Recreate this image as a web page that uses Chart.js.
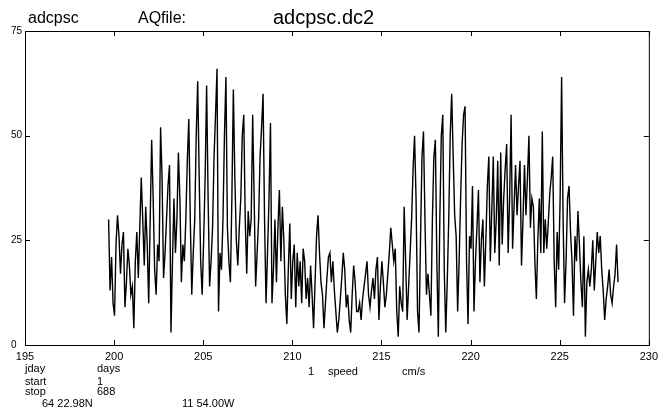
<!DOCTYPE html>
<html>
<head>
<meta charset="utf-8">
<script src="https://cdn.jsdelivr.net/npm/chart.js@4.4.0/dist/chart.umd.min.js"></script>
<style>
  html, body { margin: 0; padding: 0; background: #fff; }
  #wrap { position: relative; width: 663px; height: 417px; font-family: "Liberation Sans", Arial, sans-serif; color: #000; }
  canvas { position: absolute; left: 0; top: 0; }
  .t { position: absolute; white-space: pre; line-height: 1; }
</style>
</head>
<body>
<div id="wrap">
  <canvas id="speedChart" width="663" height="417"></canvas>
  <div class="t" style="left:28px;top:10px;font-size:16px">adcpsc</div>
  <div class="t" style="left:138px;top:10px;font-size:16px">AQfile:</div>
  <div class="t" style="left:273px;top:7px;font-size:20px">adcpsc.dc2</div>
  <div class="t" style="left:25px;top:363px;font-size:11px">jday</div>
  <div class="t" style="left:97px;top:363px;font-size:11px">days</div>
  <div class="t" style="left:308px;top:366px;font-size:11px">1</div>
  <div class="t" style="left:328px;top:366px;font-size:11px">speed</div>
  <div class="t" style="left:402px;top:366px;font-size:11px">cm/s</div>
  <div class="t" style="left:25px;top:376px;font-size:11px">start</div>
  <div class="t" style="left:97px;top:376px;font-size:11px">1</div>
  <div class="t" style="left:25px;top:386px;font-size:11px">stop</div>
  <div class="t" style="left:97px;top:386px;font-size:11px">688</div>
  <div class="t" style="left:42px;top:398px;font-size:11px">64 22.98N</div>
  <div class="t" style="left:182px;top:398px;font-size:11px">11 54.00W</div>
</div>
<script>
// sampling: first sample day and step (2 h)
const startDay = 199.69;
const stepDay = 1 / 12;

// speed (cm/s), one row per day
const speed = [
  30, 13, 21, 10, 7, 24, 31, 26, 17, 24, 27, 9,
  15, 23, 19, 12, 14, 4, 20, 27, 16, 28, 40, 30,
  19, 33, 24, 10, 30, 49, 35, 18, 12, 24, 20, 52,
  40, 16, 22, 30, 38, 43, 3, 20, 35, 22, 30, 46,
  35, 15, 24, 20, 30, 44, 54, 30, 12, 22, 30, 50,
  63, 40, 20, 12, 25, 40, 62, 35, 14, 20, 28, 45,
  55, 66, 8, 22, 18, 30, 50, 64, 28, 20, 15, 35,
  61, 40, 25, 19, 28, 35, 50, 55, 30, 17, 32, 26,
  30, 55, 35, 14, 22, 30, 45, 52, 60, 30, 10, 22,
  35, 53, 10, 18, 30, 15, 28, 37, 20, 33, 25, 12,
  5, 18, 29, 11, 20, 24, 9, 22, 14, 20, 10, 23,
  20, 11, 16, 9, 19, 12, 4, 15, 26, 31, 22, 15,
  12, 4, 10, 16, 21, 22, 15, 20, 13, 8, 3, 6,
  11, 16, 22, 18, 9, 12, 6, 3, 12, 19, 15, 8,
  8, 10, 6, 11, 14, 17, 20, 12, 9, 13, 16, 11,
  18, 21, 6, 14, 20, 15, 9, 12, 17, 22, 28, 24,
  20, 23, 8, 2, 14, 10, 8, 33, 20, 6, 14, 22,
  30, 42, 50, 35, 8, 3, 25, 45, 51, 30, 12, 17,
  12, 7, 30, 45, 49, 20, 2, 30, 50, 55, 18, 3,
  15, 30, 50, 60, 45, 31, 26, 8, 20, 35, 48, 55,
  57, 20, 5, 26, 23, 38, 8, 20, 28, 37, 15, 25,
  30, 14, 25, 38, 45, 20, 32, 45, 22, 30, 44, 19,
  46, 24, 35, 42, 48, 22, 35, 55, 23, 33, 43, 31,
  38, 44, 19, 30, 43, 31, 40, 50, 28, 35, 33, 20,
  11, 25, 35, 22, 51, 22, 30, 23, 29, 36, 40, 45,
  20, 9, 27, 18, 35, 64, 30, 10, 20, 35, 38, 27,
  20, 7, 26, 20, 32, 24, 15, 9, 26, 2, 15, 18,
  14, 18, 25, 13, 20, 27, 22, 26, 18, 13, 6, 11,
  14, 18, 12, 10, 14, 17, 24, 15
];

const xTicks = [195, 200, 205, 210, 215, 220, 225, 230];
const yTicks = [0, 25, 50, 75];

const points = speed.map((v, i) => ({ x: startDay + i * stepDay, y: v }));

// box round the plot with short inward ticks
const framePlugin = {
  id: 'frame',
  afterDatasetsDraw(chart) {
    const { ctx, chartArea: a, scales } = chart;
    ctx.save();
    ctx.strokeStyle = '#000';
    ctx.lineWidth = 1;
    ctx.strokeRect(a.left + 0.5, a.top + 0.5, a.right - a.left, a.bottom - a.top);
    ctx.beginPath();
    scales.x.ticks.forEach(t => {
      const px = Math.round(scales.x.getPixelForValue(t.value)) + 0.5;
      ctx.moveTo(px, a.top); ctx.lineTo(px, a.top + 5);
      ctx.moveTo(px, a.bottom); ctx.lineTo(px, a.bottom - 5);
    });
    scales.y.ticks.forEach(t => {
      const py = Math.round(scales.y.getPixelForValue(t.value)) + 0.5;
      ctx.moveTo(a.left, py); ctx.lineTo(a.left + 5, py);
      ctx.moveTo(a.right, py); ctx.lineTo(a.right - 5, py);
    });
    ctx.stroke();
    ctx.restore();
  }
};

const ctx = document.getElementById('speedChart').getContext('2d');
const speedChart = new Chart(ctx, {
  type: 'line',
  data: {
    datasets: [{
      label: 'speed',
      data: points,
      borderColor: '#000',
      borderWidth: 1.4,
      pointRadius: 0,
      tension: 0,
      fill: false
    }]
  },
  options: {
    responsive: false,
    animation: false,
    devicePixelRatio: 1,
    layout: { padding: { left: 11, right: 11, top: 31, bottom: 0 } },
    plugins: { legend: { display: false }, tooltip: { enabled: false } },
    scales: {
      x: {
        type: 'linear',
        min: xTicks[0],
        max: xTicks[xTicks.length - 1],
        afterBuildTicks: s => { s.ticks = xTicks.map(v => ({ value: v })); },
        afterFit: s => { s.height = 72; },
        ticks: {
          color: '#000',
          font: { family: '"Liberation Sans", Arial, sans-serif', size: 11 },
          padding: 5,
          maxRotation: 0,
          autoSkip: false
        },
        grid: { display: false, drawTicks: false },
        border: { display: false }
      },
      y: {
        min: yTicks[0],
        max: yTicks[yTicks.length - 1],
        afterBuildTicks: s => { s.ticks = yTicks.map(v => ({ value: v })); },
        afterFit: s => { s.width = 14; },
        ticks: {
          color: '#000',
          font: { family: '"Liberation Sans", Arial, sans-serif', size: 10 },
          crossAlign: 'far',
          padding: 2
        },
        grid: { display: false, drawTicks: false },
        border: { display: false }
      }
    }
  },
  plugins: [framePlugin]
});
</script>
</body>
</html>
